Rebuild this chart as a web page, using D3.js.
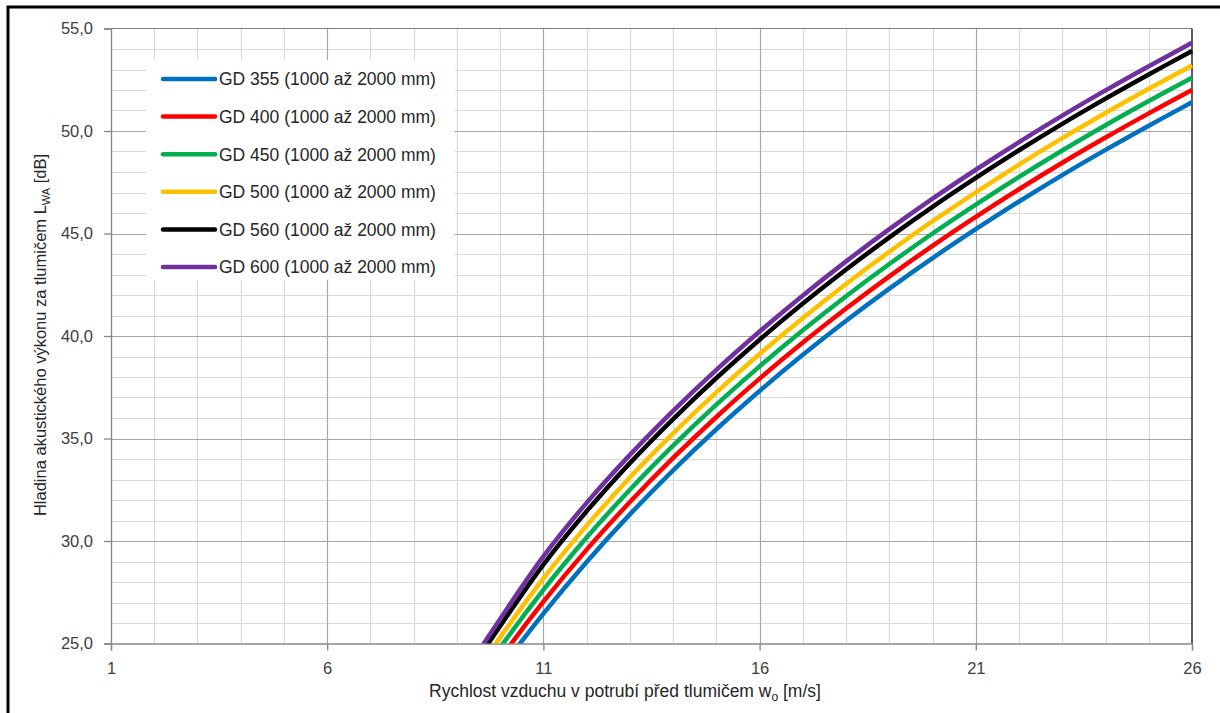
<!DOCTYPE html>
<html>
<head>
<meta charset="utf-8">
<script src="https://cdn.jsdelivr.net/npm/d3@7"></script>
<style>
  html, body { margin: 0; padding: 0; background: #fff; }
  svg { display: block; font-family: "Liberation Sans", Arial, sans-serif; }
</style>
</head>
<body>
<svg id="chart" width="1220" height="713"></svg>
<script>
// ---- data ----
const speeds = [9, 10, 11, 12, 13, 14, 15, 16, 17, 18, 19, 20, 21, 22, 23, 24, 25, 26];
const seriesNames = [
  "GD 355 (1000 až 2000 mm)",
  "GD 400 (1000 až 2000 mm)",
  "GD 450 (1000 až 2000 mm)",
  "GD 500 (1000 až 2000 mm)",
  "GD 560 (1000 až 2000 mm)",
  "GD 600 (1000 až 2000 mm)"
];
const gd355 = [20.65, 23.70, 26.46, 28.98, 31.30, 33.45, 35.45, 37.32, 39.08, 40.74, 42.31, 43.80, 45.21, 46.56, 47.85, 49.08, 50.26, 51.40];
const gd400 = [21.20, 24.25, 27.04, 29.58, 31.90, 34.05, 36.05, 37.92, 39.68, 41.34, 42.91, 44.40, 45.81, 47.16, 48.45, 49.68, 50.86, 52.00];
const gd450 = [21.70, 24.80, 27.62, 30.17, 32.50, 34.65, 36.65, 38.52, 40.28, 41.94, 43.51, 45.00, 46.41, 47.76, 49.05, 50.28, 51.46, 52.60];
const gd500 = [22.20, 25.30, 28.18, 30.75, 33.10, 35.25, 37.25, 39.12, 40.88, 42.54, 44.11, 45.60, 47.01, 48.36, 49.65, 50.88, 52.06, 53.20];
const gd560 = [22.70, 25.85, 28.85, 31.45, 33.80, 35.95, 37.95, 39.82, 41.58, 43.24, 44.81, 46.30, 47.71, 49.06, 50.35, 51.58, 52.76, 53.90];
const gd600 = [23.00, 26.20, 29.25, 31.86, 34.20, 36.35, 38.35, 40.22, 41.98, 43.64, 45.21, 46.70, 48.11, 49.46, 50.75, 51.98, 53.16, 54.30];
const seriesColors = ["#0070C0", "#FF0000", "#00B050", "#FFC000", "#000000", "#7030A0"];
const xTickValues = [1, 6, 11, 16, 21, 26];
const yTickValues = [25, 30, 35, 40, 45, 50, 55];
const xTitle = "Rychlost vzduchu v potrubí před tlumičem w";
const xTitleSub = "o";
const xTitleEnd = " [m/s]";
const yTitle = "Hladina akustického výkonu za tlumičem L";
const yTitleSub = "WA";
const yTitleEnd = " [dB]";

const allSeries = [gd355, gd400, gd450, gd500, gd560, gd600];

// ---- layout ----
const svg = d3.select("#chart");
const pL = 111, pR = 1192, pT = 28.5, pB = 643.5;
const x = d3.scaleLinear().domain([1, 26]).range([pL, pR]);
const y = d3.scaleLinear().domain([25, 55]).range([pB, pT]);

// outer frame
svg.append("rect").attr("x", 8).attr("y", 7).attr("width", 1300).attr("height", 800)
  .attr("fill", "none").attr("stroke", "#000").attr("stroke-width", 3);

// grid
const g = svg.append("g");
const minorX = d3.range(1, 27);
const minorY = d3.range(25, 56);
g.selectAll(".vx").data(minorX.filter(v => (v - 1) % 5 !== 0)).join("line")
  .attr("x1", d => Math.round(x(d)) + 0.5).attr("x2", d => Math.round(x(d)) + 0.5)
  .attr("y1", pT).attr("y2", pB).attr("stroke", "#d9d9d9").attr("stroke-width", 1.2);
g.selectAll(".hy").data(minorY.filter(v => v % 5 !== 0)).join("line")
  .attr("y1", d => Math.round(y(d)) + 0.5).attr("y2", d => Math.round(y(d)) + 0.5)
  .attr("x1", pL).attr("x2", pR).attr("stroke", "#d9d9d9").attr("stroke-width", 1.2);
g.selectAll(".vxM").data(xTickValues.slice(1, -1)).join("line")
  .attr("x1", d => Math.round(x(d)) + 0.5).attr("x2", d => Math.round(x(d)) + 0.5)
  .attr("y1", pT).attr("y2", pB).attr("stroke", "#a6a6a6").attr("stroke-width", 1.2);
g.selectAll(".hyM").data(yTickValues.slice(1, -1)).join("line")
  .attr("y1", d => Math.round(y(d)) + 0.5).attr("y2", d => Math.round(y(d)) + 0.5)
  .attr("x1", pL).attr("x2", pR).attr("stroke", "#a6a6a6").attr("stroke-width", 1.2);

// top & right border of plot
g.append("line").attr("x1", pL).attr("x2", pR).attr("y1", pT).attr("y2", pT)
  .attr("stroke", "#7f7f7f").attr("stroke-width", 1.2);
g.append("line").attr("x1", pR).attr("x2", pR).attr("y1", pT).attr("y2", pB)
  .attr("stroke", "#262626").attr("stroke-width", 1.5);

// axes
const fmt = d3.format(".1f");
const yAxis = d3.axisLeft(y).tickValues(yTickValues).tickSize(7).tickPadding(11)
  .tickFormat(d => fmt(d).replace(".", ","));
const xAxis = d3.axisBottom(x).tickValues(xTickValues).tickSize(7).tickPadding(12)
  .tickFormat(d3.format("d"));
const ya = svg.append("g").attr("transform", `translate(${pL},0)`).call(yAxis);
const xa = svg.append("g").attr("transform", `translate(0,${pB})`).call(xAxis);
[ya, xa].forEach(a => {
  a.select(".domain").attr("stroke", "#868686").attr("stroke-width", 1.3);
  a.selectAll(".tick line").attr("stroke", "#868686").attr("stroke-width", 1.3);
  a.selectAll(".tick text").attr("fill", "#404040").style("font-size", "16.5px")
    .style("font-family", '"Liberation Sans", Arial, sans-serif');
});

// series lines, clipped to plot
svg.append("clipPath").attr("id", "clip").append("rect")
  .attr("x", pL).attr("y", pT - 4).attr("width", pR - pL + 4).attr("height", pB - pT + 4);
const line = d3.line().x(d => x(d[0])).y(d => y(d[1])).curve(d3.curveCatmullRom.alpha(0.5));
const lines = svg.append("g").attr("clip-path", "url(#clip)");
allSeries.forEach((vals, i) => {
  lines.append("path").datum(speeds.map((s, j) => [s, vals[j]]))
    .attr("d", line).attr("fill", "none").attr("stroke", seriesColors[i])
    .attr("stroke-width", 4.5).attr("stroke-linejoin", "round");
});

// legend
const lg = svg.append("g");
lg.append("rect").attr("x", 146).attr("y", 60).attr("width", 309).attr("height", 220).attr("fill", "#fff");
const rowY = d3.scaleLinear().domain([0, 5]).range([79, 267]);
seriesNames.forEach((name, i) => {
  const yy = rowY(i);
  lg.append("line").attr("x1", 163).attr("x2", 215).attr("y1", yy).attr("y2", yy)
    .attr("stroke", seriesColors[i]).attr("stroke-width", 4.5).attr("stroke-linecap", "round");
  lg.append("text").attr("x", 219).attr("y", yy + 6.3).text(name)
    .attr("fill", "#262626").style("font-size", "17.5px");
});

// x axis title
const xt = svg.append("text").attr("x", 625).attr("y", 697)
  .attr("text-anchor", "middle").attr("fill", "#262626").style("font-size", "17.5px");
xt.append("tspan").text(xTitle);
xt.append("tspan").text(xTitleSub).attr("dy", 4).style("font-size", "12px");
xt.append("tspan").text(xTitleEnd).attr("dy", -4);

// y axis title
const yt = svg.append("text").attr("transform", `translate(46,${335}) rotate(-90)`)
  .attr("text-anchor", "middle").attr("fill", "#262626").style("font-size", "16.5px");
yt.append("tspan").text(yTitle);
yt.append("tspan").text(yTitleSub).attr("dy", 4).style("font-size", "11px");
yt.append("tspan").text(yTitleEnd).attr("dy", -4);
</script>
</body>
</html>
